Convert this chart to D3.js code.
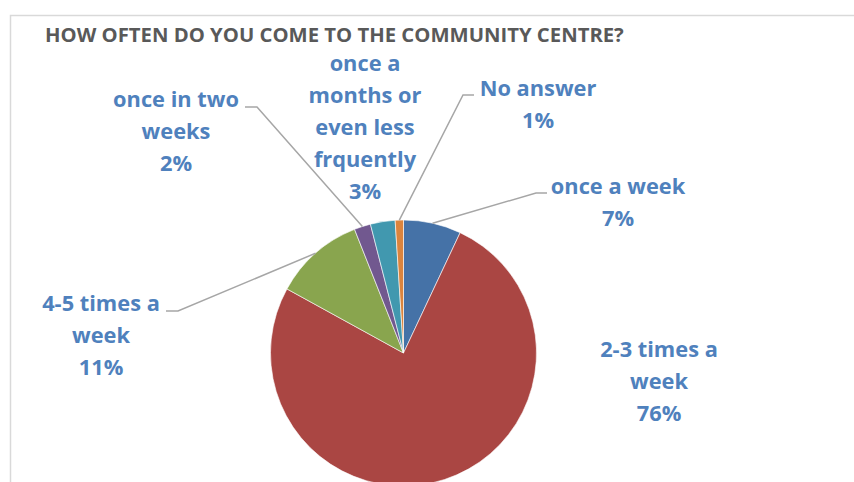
<!DOCTYPE html>
<html>
<head>
<meta charset="utf-8">
<script src="https://cdn.jsdelivr.net/npm/d3@7"></script>
<style>
  html, body { margin: 0; padding: 0; background: #fff; }
  svg { display: block; }
</style>
</head>
<body>
<svg id="chart" width="854" height="482"></svg>
<script>
// Survey answers, clockwise from 12 o'clock
const categories = [
  "once a week",
  "2-3 times a week",
  "4-5 times a week",
  "once in two weeks",
  "once a months or even less frquently",
  "No answer"
];
const percents = [7, 76, 11, 2, 3, 1];
const sliceColors = ["#4572A7", "#AA4643", "#89A54E", "#71588F", "#4198AF", "#DB843D"];

// Label lines as they wrap in the call-outs
const labelLines = [
  ["once a week"],
  ["2-3 times a", "week"],
  ["4-5 times a", "week"],
  ["once in two", "weeks"],
  ["once a", "months or", "even less", "frquently"],
  ["No answer"]
];

const title = "HOW OFTEN DO YOU COME TO THE COMMUNITY CENTRE?";

// Layout: where each call-out sits, and whether it gets a leader line
const labelLayout = [
  { x: 618, y: 194, leader: { side: "left", ex: 536, ey: 193 } },
  { x: 659, y: 357, leader: null },
  { x: 101, y: 311, leader: { side: "right", ex: 178, ey: 311 } },
  { x: 176, y: 107, leader: { side: "right", ex: 257, ey: 107 } },
  { x: 365, y: 71, leader: null },
  { x: 538, y: 96, leader: { side: "left", ex: 463, ey: 95 } }
];

const cx = 403.5, cy = 353, radius = 133;
const lineHeight = 32;
const font = "'Open Sans', Lato, sans-serif";

const svg = d3.select("#chart");

// Chart frame
svg.append("rect")
  .attr("x", 10.5).attr("y", 15.5)
  .attr("width", 900).attr("height", 600)
  .attr("fill", "none")
  .attr("stroke", "#d9d9d9")
  .attr("stroke-width", 1.5);

svg.append("text")
  .attr("x", 45).attr("y", 42)
  .attr("font-family", font)
  .attr("font-weight", 700)
  .attr("font-size", 20.3)
  .attr("fill", "#595959")
  .text(title);

const data = categories.map((c, i) => ({ name: c, value: percents[i], i }));

const pie = d3.pie().sort(null).value(d => d.value);
const arcs = pie(data);
const arc = d3.arc().innerRadius(0).outerRadius(radius);

const g = svg.append("g").attr("transform", `translate(${cx},${cy})`);

g.selectAll("path.slice")
  .data(arcs)
  .join("path")
  .attr("class", "slice")
  .attr("d", arc)
  .attr("fill", d => sliceColors[d.data.i])
  .attr("stroke", "#ffffff")
  .attr("stroke-width", 0.6);

// Leader lines: from the arc at the slice's mid angle to an elbow by the label
arcs.forEach(a => {
  const lay = labelLayout[a.data.i];
  if (!lay.leader) return;
  const mid = (a.startAngle + a.endAngle) / 2;
  const ax = cx + radius * Math.sin(mid);
  const ay = cy - radius * Math.cos(mid);
  const L = lay.leader;
  const tx = L.side === "left" ? L.ex + 11 : L.ex - 12;
  svg.append("polyline")
    .attr("points", [[ax, ay], [L.ex, L.ey], [tx, L.ey]].map(p => p.join(",")).join(" "))
    .attr("fill", "none")
    .attr("stroke", "#a6a6a6")
    .attr("stroke-width", 1.5);
});

// Call-out labels with category text and percentage
arcs.forEach(a => {
  const i = a.data.i;
  const lay = labelLayout[i];
  const lines = labelLines[i].concat([d3.format("d")(a.data.value) + "%"]);
  const t = svg.append("text")
    .attr("text-anchor", "middle")
    .attr("font-family", font)
    .attr("font-weight", 700)
    .attr("font-size", 21.8)
    .attr("fill", "#4F81BD");
  lines.forEach((ln, k) => {
    t.append("tspan")
      .attr("x", lay.x)
      .attr("y", lay.y + k * lineHeight)
      .text(ln);
  });
});
</script>
</body>
</html>
